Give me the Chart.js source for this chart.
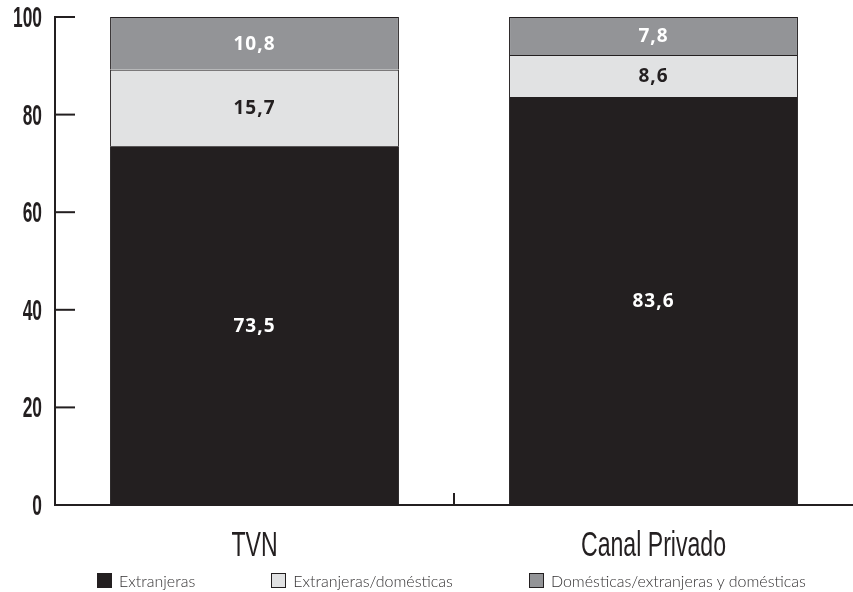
<!DOCTYPE html>
<html>
<head>
    <title>TVN vs Canal Privado</title>
    <script src="https://cdn.jsdelivr.net/npm/chart.js"></script>
    <style>
        body { margin: 0; background: #fff; }
        #wrap { position: relative; width: 853px; height: 592px; }
        #legend {
            position: absolute; left: 97px; top: 571px;
            display: flex; gap: 76px;
            font-family: Lato, "Open Sans", sans-serif; font-weight: 300;
            font-size: 16px; color: #333132;
        }
        #legend span.item { display: flex; align-items: center; }
        #legend span.box {
            display: inline-block; width: 13px; height: 13px;
            border: 1px solid #231f20; margin-right: 7px;
        }
    </style>
</head>
<body>
<div id="wrap">
    <canvas id="chart" width="853" height="592"></canvas>
    <div id="legend"></div>
</div>
<script>
    const categories = ['TVN', 'Canal Privado'];
    const extranjeras = [73.5, 83.6];
    const extranjerasDomesticas = [15.7, 8.6];
    const domesticasMixtas = [10.8, 7.8];
    const yTicks = [0, 20, 40, 60, 80, 100];

    const seriesNames = ['Extranjeras', 'Extranjeras/domésticas', 'Domésticas/extranjeras y domésticas'];
    const fills = ['#231f20', '#e1e2e3', '#939497'];
    const labelColors = ['#ffffff', '#231f20', '#ffffff'];

    const ink = '#231f20';

    // squeezed text, stands in for the condensed face of the original
    function narrowText(ctx, txt, x, y, squeeze) {
        ctx.save();
        ctx.translate(x, y);
        ctx.scale(squeeze, 1);
        ctx.fillText(txt, 0, 0);
        ctx.restore();
    }

    // inward ticks, axis labels, separator between categories, values inside bars
    const decor = {
        id: 'decor',
        afterDatasetsDraw(chart) {
            const ctx = chart.ctx;
            const y = chart.scales.y, x = chart.scales.x;
            ctx.save();
            ctx.strokeStyle = ink;
            ctx.fillStyle = ink;
            ctx.lineWidth = 2;
            ctx.font = 'bold 29px "Liberation Sans", Arial, sans-serif';
            ctx.textAlign = 'right';
            ctx.textBaseline = 'middle';
            yTicks.forEach(v => {
                const py = y.getPixelForValue(v);
                ctx.beginPath();
                ctx.moveTo(x.left, py);
                ctx.lineTo(x.left + 20, py);
                ctx.stroke();
                narrowText(ctx, String(v), x.left - 13, py + 2, 0.6);
            });
            const sep = (x.getPixelForValue(0) + x.getPixelForValue(1)) / 2;
            ctx.beginPath();
            ctx.moveTo(sep, y.bottom);
            ctx.lineTo(sep, y.bottom - 12);
            ctx.stroke();

            ctx.font = '35px "Liberation Sans", Arial, sans-serif';
            ctx.textAlign = 'center';
            ctx.textBaseline = 'alphabetic';
            categories.forEach((c, j) => {
                narrowText(ctx, c, x.getPixelForValue(j), y.bottom + 51, 0.66);
            });

            ctx.font = 'bold 19px "Open Sans", sans-serif';
            ctx.letterSpacing = '1px';
            ctx.textAlign = 'center';
            ctx.textBaseline = 'middle';
            chart.data.datasets.forEach((ds, i) => {
                chart.getDatasetMeta(i).data.forEach((bar, j) => {
                    ctx.fillStyle = labelColors[i];
                    const txt = ds.data[j].toFixed(1).replace('.', ',');
                    ctx.fillText(txt, bar.x, (bar.y + bar.base) / 2 + 1);
                });
            });
            ctx.restore();
        }
    };

    const datasets = [extranjeras, extranjerasDomesticas, domesticasMixtas].map((d, i) => ({
        label: seriesNames[i],
        data: d,
        backgroundColor: fills[i],
        borderColor: ink,
        borderWidth: i === 0 ? 0 : 1,
        barPercentage: 0.724,
        categoryPercentage: 1
    }));

    new Chart(document.getElementById('chart'), {
        type: 'bar',
        data: { labels: categories, datasets: datasets },
        options: {
            responsive: false,
            animation: false,
            layout: { padding: { top: 17, right: 0, bottom: 0, left: 0 } },
            plugins: { legend: { display: false }, tooltip: { enabled: false } },
            scales: {
                x: {
                    stacked: true,
                    grid: { display: false, drawTicks: false },
                    border: { color: ink, width: 2 },
                    ticks: { display: false },
                    afterFit(s) { s.height = 87; }
                },
                y: {
                    stacked: true,
                    min: 0, max: 100,
                    afterBuildTicks(s) { s.ticks = yTicks.map(v => ({ value: v })); },
                    grid: { display: false, drawTicks: false },
                    border: { color: ink, width: 2 },
                    ticks: { display: false },
                    afterFit(s) { s.width = 55; }
                }
            }
        },
        plugins: [decor]
    });

    const legend = document.getElementById('legend');
    seriesNames.forEach((n, i) => {
        const item = document.createElement('span');
        item.className = 'item';
        item.innerHTML = '<span class="box" style="background:' + fills[i] + '"></span>' + n;
        legend.appendChild(item);
    });
</script>
</body>
</html>
